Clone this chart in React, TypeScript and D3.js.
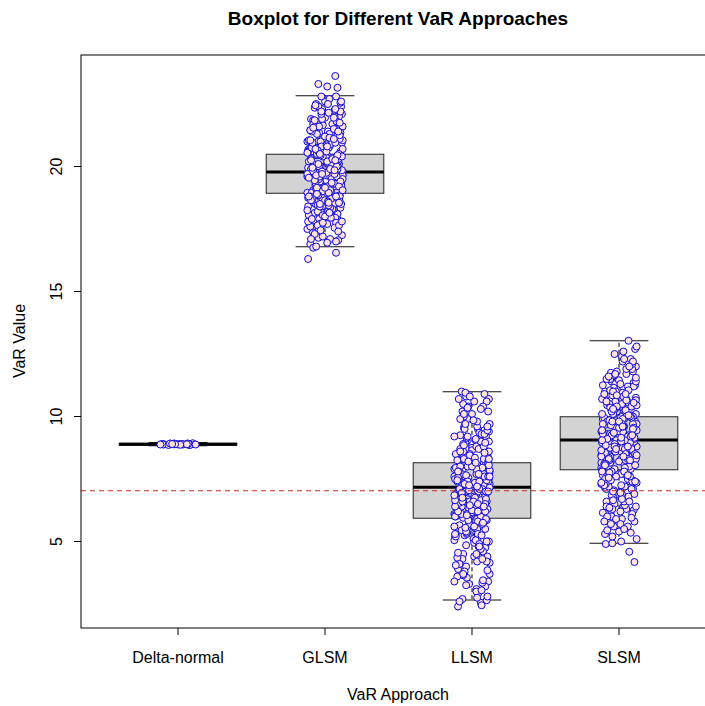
import React from "react";
import * as d3 from "d3";

const categories = ["Delta-normal", "GLSM", "LLSM", "SLSM"];

// box statistics: [lower whisker, Q1, median, Q3, upper whisker]
const boxStats: number[][] = [
  [8.83, 8.85, 8.89, 8.93, 8.96],
  [16.79, 18.93, 19.78, 20.49, 22.83],
  [2.66, 5.93, 7.17, 8.15, 10.99],
  [4.93, 7.87, 9.06, 9.99, 13.03],
];

const deltaNormal = [8.88, 8.9, 8.87, 8.91, 8.89, 8.92, 8.86, 8.9, 8.88, 8.93, 8.89, 8.87, 8.91, 8.9, 8.88, 8.89, 8.92, 8.86, 8.9, 8.91, 8.88, 8.89, 8.9, 8.87, 8.92, 8.89, 8.9, 8.88];

const glsm = [19.8, 20.3, 18.7, 21.2, 19.1, 20.9, 17.9, 19.6, 22.1, 18.4, 20.6, 19.3, 21.7, 18.9, 20.1, 19.9, 17.4, 20.4, 22.5, 19.5, 18.2, 21.0, 19.7, 20.8, 18.6, 21.5, 19.2, 17.1, 20.0, 22.8, 19.4, 18.8, 20.5, 21.9, 18.1, 19.0, 20.7, 16.9, 19.85, 21.3, 18.5, 20.2, 23.62, 19.65, 18.3, 21.1, 17.7, 20.45, 22.3, 19.35, 18.95, 20.95, 16.3, 19.55, 21.6, 18.0, 20.15, 19.05, 22.0, 17.6, 20.6, 19.75, 18.65, 21.4, 23.3, 19.15, 20.25, 17.85, 21.8, 18.45, 19.9, 20.85, 16.55, 19.45, 22.6, 18.85, 20.35, 21.25, 17.3, 19.6, 20.05, 18.25, 22.25, 19.25, 20.75, 17.95, 21.05, 18.55, 19.95, 23.2, 20.55, 18.75, 21.35, 17.5, 19.7, 20.65, 18.35, 22.4, 19.55, 21.15, 16.75, 20.1, 18.9, 19.8, 21.75, 18.15, 20.4, 17.15, 19.3, 22.7, 20.2, 18.6, 21.55, 19.1, 20.9, 17.75, 19.65, 21.95, 18.8, 20.3, 23.15, 19.4, 18.05, 21.45, 20.0, 17.55, 19.85, 22.15, 18.7, 20.7, 19.2, 21.65, 16.95, 20.5, 18.4, 19.5, 21.0, 17.25, 19.95, 22.55, 18.5, 20.15, 19.0, 21.85, 17.65, 20.8, 18.95, 19.75, 22.35, 18.2, 20.6, 19.35, 21.3, 17.05, 20.25, 18.85, 19.6, 22.8, 19.45, 20.35, 18.65, 21.1, 19.9, 20.05,
  19.6, 20.2, 18.8, 21.0, 19.3, 20.7, 18.1, 19.9, 21.6, 18.5, 20.4, 19.2, 21.3, 19.0, 20.0, 19.7, 17.8, 20.6, 22.2, 19.4, 18.3, 20.9, 19.8, 20.5, 18.7, 21.4, 19.1, 17.3, 20.1, 22.4, 19.5, 18.9, 20.3, 21.8, 18.2, 19.05, 20.8, 17.0, 19.75, 21.2, 18.6, 20.25, 19.55, 18.4, 21.05, 17.6, 20.45, 22.0, 19.35, 18.95, 20.95, 19.65, 21.5, 18.05, 20.15, 19.15, 21.9, 17.7, 20.55, 19.85, 18.75, 21.35, 19.25, 20.35, 17.95, 21.7, 18.55, 19.95, 20.75, 16.8, 19.45, 22.5, 18.85, 20.05, 21.15, 17.4, 19.6, 20.65, 18.35, 22.1, 19.3, 20.85, 18.0, 21.25, 18.65, 19.9, 20.5, 18.8, 21.45, 17.55, 19.7, 20.7, 18.45, 22.3, 19.5, 21.1, 17.2, 20.2, 18.9, 19.8, 21.6, 18.25, 20.4, 17.8, 19.4, 22.6, 20.3, 18.7, 21.55, 19.2, 20.95, 17.9, 19.65, 21.85, 18.6, 20.1, 19.35, 18.15, 21.4, 20.0, 17.65, 19.9, 22.2, 18.8, 20.6, 19.15, 21.75, 17.1, 20.45, 18.5, 19.55, 21.05, 17.45, 19.85, 22.45, 18.55, 20.25, 19.05, 21.95, 17.75, 20.8, 18.9, 19.7];

const llsm = [7.2, 8.5, 5.6, 6.9, 9.3, 4.8, 7.6, 6.2, 10.4, 7.0, 5.1, 8.1, 6.6, 3.9, 7.9, 9.0, 6.0, 7.4, 5.4, 8.8, 2.7, 6.4, 7.8, 9.7, 5.8, 7.1, 4.4, 8.3, 6.8, 10.8, 6.1, 7.5, 5.2, 8.6, 3.4, 7.3, 9.5, 6.5, 4.9, 8.0, 7.05, 5.95, 11.0, 6.75, 8.4, 3.0, 7.7, 5.5, 9.1, 6.3, 4.2, 8.2, 7.25, 5.9, 10.1, 6.95, 2.4, 7.45, 8.7, 5.3, 6.7, 9.9, 4.6, 7.85, 6.15, 8.9, 3.7, 7.15, 5.75, 10.6, 6.55, 8.05, 4.0, 7.6, 9.4, 6.05, 5.0, 8.35, 7.35, 2.9, 6.85, 9.2, 5.65, 7.95, 4.5, 8.55, 6.25, 10.3, 7.1, 5.35, 3.2, 8.15, 6.6, 9.6, 7.55, 4.7, 6.45, 8.75, 5.85, 7.0, 10.9, 3.55, 6.9, 8.45, 5.45, 7.75, 4.3, 9.05, 6.35, 7.3, 2.55, 8.25, 5.7, 10.0, 6.2, 4.85, 7.9, 8.6, 6.0, 3.85, 7.4, 9.35, 5.15, 6.7, 8.1, 4.1, 7.65, 10.5, 6.4, 5.55, 8.95, 7.2, 3.1, 6.8, 8.3, 5.25, 9.8, 7.05, 4.65, 6.15, 8.65, 2.65, 7.5, 5.8, 9.15, 6.5, 4.35, 8.0, 7.15, 10.2, 5.95, 3.35, 7.8, 6.65, 8.5, 4.95, 9.55, 6.3, 7.35, 5.05, 10.7, 6.85, 2.8, 8.2, 5.6, 7.0, 9.25, 4.25, 6.55, 8.4, 3.65, 7.7, 5.9, 10.95, 6.1, 8.8, 4.75, 7.25, 9.65, 5.5, 6.95, 3.45, 8.1, 6.45, 7.45, 4.55, 9.45, 5.3, 7.95, 6.25, 10.35, 2.45, 8.35, 5.85, 7.1, 4.15, 9.0, 6.6,
  7.3, 8.4, 5.7, 7.0, 9.2, 5.0, 7.5, 6.3, 10.2, 7.1, 5.3, 8.0, 6.7, 4.1, 7.8, 8.9, 6.1, 7.35, 5.5, 8.7, 3.0, 6.5, 7.7, 9.5, 5.9, 7.2, 4.6, 8.2, 6.9, 10.6, 6.2, 7.6, 5.35, 8.5, 3.6, 7.25, 9.3, 6.6, 5.05, 7.95, 7.15, 6.0, 10.8, 6.8, 8.3, 3.3, 7.65, 5.6, 9.0, 6.4, 4.4, 8.1, 7.4, 5.8, 9.9, 7.0, 2.6, 7.5, 8.6, 5.45, 6.75, 9.7, 4.8, 7.9, 6.2, 8.8, 3.8, 7.2, 5.85, 10.4, 6.6, 8.0, 4.2, 7.55, 9.3, 6.1, 5.2, 8.25, 7.4, 3.05, 6.9, 9.1, 5.7, 7.85, 4.7, 8.45, 6.3, 10.1, 7.05, 5.4, 3.4, 8.05, 6.65, 9.45, 7.6, 4.9, 6.5, 8.7, 5.9, 7.1, 10.7, 3.7, 6.95, 8.35, 5.55, 7.7, 4.5, 8.95, 6.4, 7.3, 2.75, 8.2, 5.75, 9.85, 6.25, 5.0, 7.8, 8.55, 6.05, 4.05, 7.45, 9.2, 5.25, 6.75, 8.15, 4.3, 7.6, 10.3, 6.45, 5.6, 8.85, 7.25, 3.25, 6.85, 8.3, 5.3, 9.6, 7.0, 4.8, 6.2, 8.6];

const slsm = [9.1, 10.3, 7.6, 8.8, 11.2, 6.9, 9.5, 8.2, 10.8, 9.0, 7.3, 10.1, 8.6, 5.8, 9.8, 11.7, 8.0, 9.3, 7.1, 10.6, 4.9, 8.4, 9.7, 12.4, 7.8, 9.2, 6.4, 10.4, 8.9, 11.4, 8.1, 9.6, 7.4, 10.0, 5.4, 9.4, 11.0, 8.5, 6.7, 9.9, 9.05, 7.9, 13.03, 8.75, 10.5, 4.59, 9.7, 7.5, 11.1, 8.3, 6.2, 10.2, 9.25, 7.95, 12.0, 8.95, 4.18, 9.45, 10.7, 7.2, 8.7, 11.8, 6.6, 9.85, 8.15, 10.9, 5.9, 9.15, 7.7, 12.6, 8.55, 10.05, 6.0, 9.6, 11.3, 8.05, 7.0, 10.35, 9.35, 5.3, 8.85, 11.15, 7.65, 9.95, 6.5, 10.55, 8.25, 12.2, 9.1, 7.35, 5.6, 10.15, 8.6, 11.6, 9.55, 6.8, 8.45, 10.75, 7.85, 9.0, 12.7, 6.3, 8.9, 10.45, 7.45, 9.75, 6.1, 11.05, 8.35, 9.3, 4.93, 10.25, 7.7, 11.9, 8.2, 6.85, 9.9, 10.6, 8.0, 5.7, 9.4, 11.35, 7.15, 8.7, 10.1, 6.15, 9.65, 12.5, 8.4, 7.55, 10.95, 9.2, 5.1, 8.8, 10.3, 7.25, 11.75, 9.05, 6.65, 8.15, 10.65, 7.8, 9.5, 11.25, 8.5, 6.45, 9.8, 10.0, 7.1, 9.15, 11.5, 8.3, 6.9, 10.85, 8.65, 9.35, 7.4, 12.3, 8.95, 5.5, 10.2, 7.6, 9.0, 11.45, 6.25, 8.55, 10.4, 7.05, 9.7, 8.1, 11.65, 9.25, 10.5, 8.75, 7.9, 9.45,
  9.2, 10.2, 7.7, 8.9, 11.0, 7.0, 9.4, 8.3, 10.7, 9.1, 7.4, 10.0, 8.7, 6.0, 9.7, 11.5, 8.1, 9.3, 7.2, 10.5, 5.2, 8.5, 9.6, 12.1, 7.9, 9.25, 6.6, 10.3, 8.95, 11.3, 8.2, 9.55, 7.5, 9.95, 5.6, 9.35, 10.9, 8.6, 6.8, 9.85, 9.0, 8.0, 12.8, 8.8, 10.4, 5.0, 9.65, 7.6, 11.0, 8.4, 6.4, 10.1, 9.15, 8.05, 11.9, 9.05, 5.45, 9.5, 10.6, 7.3, 8.75, 11.6, 6.7, 9.8, 8.25, 10.8, 6.1, 9.2, 7.8, 12.3, 8.6, 10.0, 6.2, 9.55, 11.2, 8.1, 7.1, 10.25, 9.3, 5.8, 8.9, 11.05, 7.75, 9.9, 6.6, 10.45, 8.3, 11.8, 9.0, 7.45, 5.9, 10.1, 8.65, 11.4, 9.45, 6.9, 8.5, 10.65, 7.95, 9.1, 12.2, 6.4, 8.85, 10.35, 7.55, 9.7, 6.3, 10.9, 8.4, 9.25, 5.35, 10.2, 7.8, 11.7, 8.25, 6.95, 9.8, 10.55, 8.05, 5.95, 9.35, 11.25, 7.25, 8.8, 10.05, 6.35, 9.6, 12.0, 8.45, 7.65, 10.85, 9.15, 5.7, 8.7, 10.3, 7.35, 11.55, 9.05];

const seriesValues = [deltaNormal, glsm, llsm, slsm];

// horizontal jitter offsets (category units)
const jitterOffsets = [0.03, -0.09, 0.11, -0.02, 0.07, -0.11, 0.01, 0.09, -0.06, 0.05, -0.04, 0.12, -0.1, 0.0, 0.08, -0.07, 0.04, -0.12, 0.06, -0.03, 0.1, -0.05, 0.02, -0.08, 0.115, -0.015, 0.065, -0.095, 0.035, -0.045, 0.095, -0.115, 0.015, -0.065, 0.085, -0.025, 0.045, -0.085, 0.105, -0.055, 0.025, -0.035, 0.075];

const yTicks = [5, 10, 15, 20];
const refLine = 7.03;

const W = 705;
const H = 706;
const FONT = "'Liberation Sans', Arial, Helvetica, sans-serif";

export default function App() {
  const x = d3.scaleLinear().domain([0.34, 4.66]).range([81, 716]);
  const y = d3.scaleLinear().domain([1.54, 24.46]).range([628, 55]);
  const boxHalf = 0.4;
  const stapleHalf = 0.2;
  const nJ = jitterOffsets.length;

  return (
    <svg
      width={W}
      height={H}
      style={{ position: "absolute", left: 0, top: 0, background: "#fff" }}
      fontFamily={FONT}
    >
      <rect x={0} y={0} width={W} height={H} fill="#fff" />
      <text x={398} y={25} textAnchor="middle" fontSize={19} fontWeight="bold" fill="#000">
        Boxplot for Different VaR Approaches
      </text>

      {boxStats.map((s, i) => {
        const c = i + 1;
        const [lo, q1, med, q3, hi] = s;
        return (
          <g key={"b" + i}>
            <line x1={x(c)} x2={x(c)} y1={y(q3)} y2={y(hi)} stroke="#000" strokeDasharray="4,3" />
            <line x1={x(c)} x2={x(c)} y1={y(q1)} y2={y(lo)} stroke="#000" strokeDasharray="4,3" />
            <line x1={x(c - stapleHalf)} x2={x(c + stapleHalf)} y1={y(hi)} y2={y(hi)} stroke="#111" />
            <line x1={x(c - stapleHalf)} x2={x(c + stapleHalf)} y1={y(lo)} y2={y(lo)} stroke="#111" />
            <rect
              x={x(c - boxHalf)}
              y={y(q3)}
              width={x(c + boxHalf) - x(c - boxHalf)}
              height={Math.max(y(q1) - y(q3), 0.5)}
              fill="#d3d3d3"
              stroke="#222"
            />
            <line x1={x(c - boxHalf)} x2={x(c + boxHalf)} y1={y(med)} y2={y(med)} stroke="#000" strokeWidth={3} />
          </g>
        );
      })}

      {seriesValues.map((vals, i) =>
        vals.map((v, j) => (
          <circle
            key={"p" + i + "-" + j}
            cx={x(i + 1 + jitterOffsets[(j * 7 + i * 11) % nJ])}
            cy={y(v)}
            r={3.5}
            fill="#fde2de"
            stroke="#0a0ad8"
            strokeWidth={1}
          />
        ))
      )}

      <line x1={81} x2={W} y1={y(refLine)} y2={y(refLine)} stroke="#cc2a2a" strokeWidth={1.1} strokeDasharray="5,4" />

      <rect x={81} y={55} width={716 - 81} height={628 - 55} fill="none" stroke="#000" strokeWidth={1} />

      {categories.map((c, i) => (
        <g key={"x" + i}>
          <line x1={x(i + 1)} x2={x(i + 1)} y1={628} y2={635} stroke="#000" />
          <text x={x(i + 1)} y={663} textAnchor="middle" fontSize={16} fill="#000">
            {c}
          </text>
        </g>
      ))}
      <text x={398} y={700} textAnchor="middle" fontSize={16} fill="#000">
        VaR Approach
      </text>

      {yTicks.map((t) => (
        <g key={"y" + t}>
          <line x1={74} x2={81} y1={y(t)} y2={y(t)} stroke="#000" />
          <text transform={`translate(62,${y(t)}) rotate(-90)`} textAnchor="middle" fontSize={16} fill="#000">
            {t}
          </text>
        </g>
      ))}
      <text transform={`translate(25,341) rotate(-90)`} textAnchor="middle" fontSize={16} fill="#000">
        VaR Value
      </text>
    </svg>
  );
}
